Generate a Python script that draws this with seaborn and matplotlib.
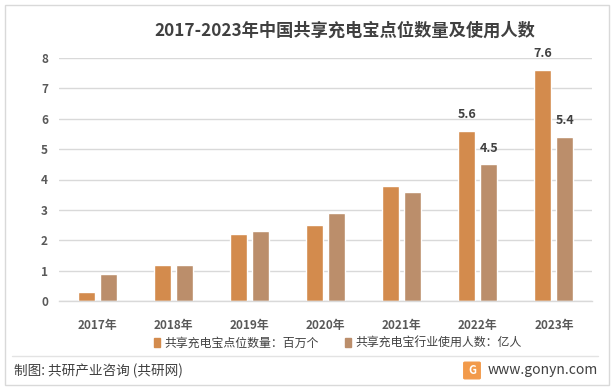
import matplotlib
matplotlib.use("Agg")
import matplotlib.pyplot as plt
import seaborn as sns
import pandas as pd
from matplotlib.patches import Rectangle, FancyBboxPatch
from matplotlib.lines import Line2D

years = ["2017年", "2018年", "2019年", "2020年", "2021年", "2022年", "2023年"]
points = [0.28, 1.2, 2.2, 2.5, 3.8, 5.6, 7.6]
users = [0.9, 1.17, 2.3, 2.9, 3.6, 4.5, 5.4]
series_names = ["共享充电宝点位数量：百万个", "共享充电宝行业使用人数：亿人"]
labeled_years = ["2022年", "2023年"]
yticks = [0, 1, 2, 3, 4, 5, 6, 7, 8]

colors = ["#D38B4D", "#BB8E6B"]

df = pd.DataFrame({
    "year": years * 2,
    "value": points + users,
    "series": [series_names[0]] * len(years) + [series_names[1]] * len(years),
})

sns.set_theme(style="white")
plt.rcParams["font.family"] = ["Noto Sans CJK SC", "DejaVu Sans"]

fig = plt.figure(figsize=(6.15, 3.91), dpi=100)
ax = fig.add_axes([59 / 615, 90 / 391, 533 / 615, 243 / 391])

sns.barplot(data=df, x="year", y="value", hue="series", palette=colors,
            width=0.578, gap=0.228, saturation=1, ax=ax, legend=False)

# value labels only on the last two years
for i, cont in enumerate(ax.containers):
    labels = []
    for yr, bar in zip(years, cont):
        labels.append(f"{bar.get_height():.1f}" if yr in labeled_years else "")
    ax.bar_label(cont, labels=labels, padding=7, fontsize=9, fontweight="bold",
                 color="#404040", clip_on=False)

ax.set_ylim(0, 8)
ax.set_yticks(yticks)
ax.yaxis.grid(True, color="#D9D9D9", linewidth=1)
ax.set_axisbelow(True)
for s in ["top", "right", "left"]:
    ax.spines[s].set_visible(False)
ax.spines["bottom"].set_color("#D9D9D9")
ax.spines["bottom"].set_linewidth(1)
ax.set_xlabel("")
ax.set_ylabel("")
ax.tick_params(axis="y", length=0, pad=8, labelsize=8.5, labelcolor="#595959")
ax.tick_params(axis="x", length=0, pad=13, labelsize=8.5, labelcolor="#595959")
for t in ax.get_xticklabels() + ax.get_yticklabels():
    t.set_fontweight("bold")

fig.text(345 / 615, 1 - 31 / 391, "2017-2023年中国共享充电宝点位数量及使用人数",
         ha="center", va="center", fontsize=12.4, fontweight="bold", color="#404040")

handles = [Rectangle((0, 0), 1, 1, color=c) for c in colors]
fig.legend(handles, series_names, loc="center", bbox_to_anchor=(338 / 615, 1 - 343 / 391),
           ncol=2, frameon=False, fontsize=8.6, handlelength=0.5, handleheight=0.75,
           handletextpad=0.4, columnspacing=2.2, labelcolor="#404040")

# footer
fig.add_artist(Line2D([12 / 615, 598 / 615], [1 - 356 / 391] * 2, color="#E3E3E3", linewidth=1))
fig.text(14 / 615, 1 - 371 / 391, "制图: 共研产业咨询 (共研网)", ha="left", va="center",
         fontsize=9.8, color="#404040")
fig.text(598 / 615, 1 - 370 / 391, "www.gonyn.com", ha="right", va="center",
         fontsize=10, color="#404040")
fig.add_artist(FancyBboxPatch((465 / 615, 1 - 378 / 391), 14 / 615, 15 / 391,
                              boxstyle="round,pad=0.002", color="#F29A4A",
                              transform=fig.transFigure))
fig.text(472 / 615, 1 - 370.5 / 391, "G", ha="center", va="center", fontsize=8,
         fontweight="bold", color="white")

# outer frame
fig.add_artist(Rectangle((5 / 615, 1 - 385 / 391), 604 / 615, 380 / 391, fill=False,
                         edgecolor="#D9D9D9", linewidth=1, transform=fig.transFigure))

fig.savefig("out.png", dpi=100)
